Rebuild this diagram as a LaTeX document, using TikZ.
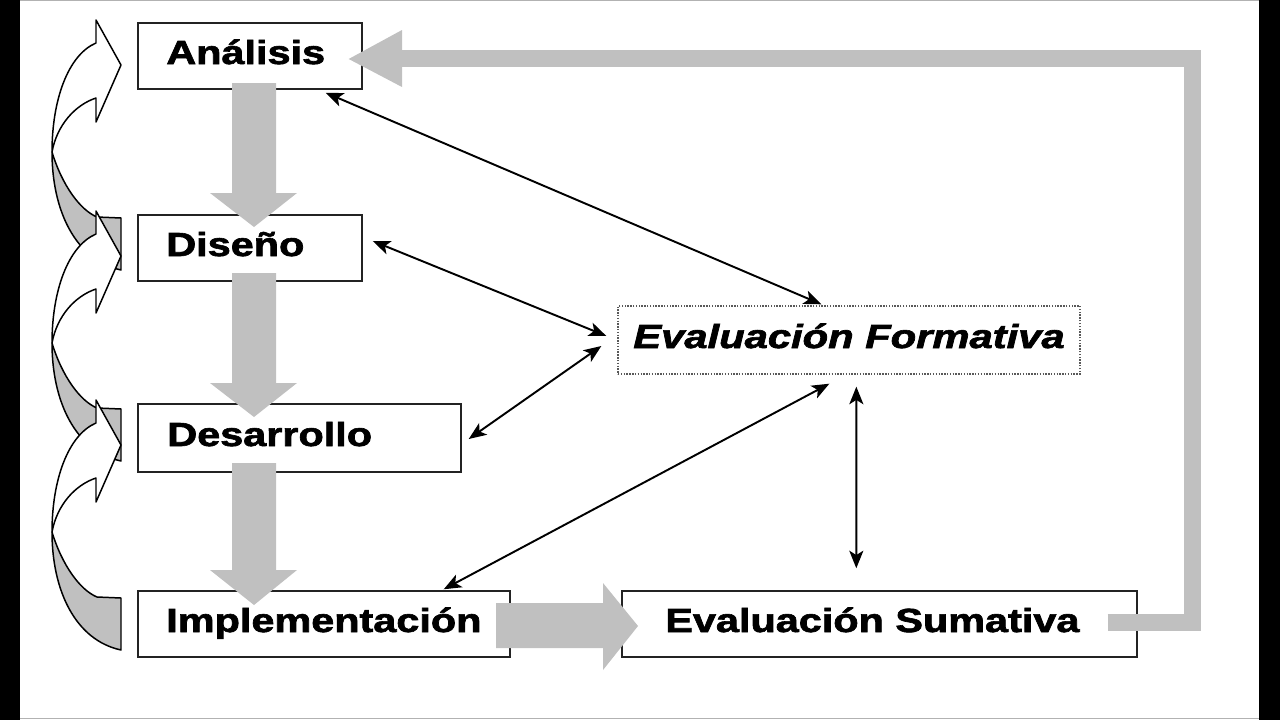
\documentclass[tikz,border=0pt]{standalone}
\usepackage{fontspec}
\usepackage{graphicx}
\setmainfont{Liberation Sans}[BoldFeatures={FakeBold=1.8},BoldItalicFeatures={FakeBold=1.8}]
\usetikzlibrary{arrows.meta,calc}
\definecolor{arrowgray}{RGB}{192,192,192}
\definecolor{boxline}{RGB}{35,35,35}
\newcommand{\lbl}[1]{\scalebox{1.24}[1]{\fontsize{19}{22}\selectfont\bfseries #1}}
\newcommand{\lbli}[1]{\scalebox{1.25}[1]{\fontsize{19}{22}\selectfont\bfseries\itshape #1}}
\newcommand{\myCurvedArrow}[1]{%
\begin{scope}[shift={(0,#1)}]
\filldraw[curvedgrey] (52,152) .. controls (62,185) and (80,210) .. (97,217) -- (121,218) -- (121,270) .. controls (75,260) and (52,210) .. cycle;
\filldraw[curvedwhite] (52,152) .. controls (52,100) and (68,55) .. (96,43) -- (96,20) -- (121,65) -- (96,122) -- (96,98) .. controls (75,105) and (57,125) .. cycle;
\end{scope}}
\begin{document}
\begin{tikzpicture}[x=0.02cm,y=-0.02cm,
  box/.style={draw=boxline, line width=0.85pt, fill=white, inner sep=0pt, rectangle},
  dotbox/.style={draw=gray!70!black, line width=0.8pt, dash pattern=on 0.8pt off 0.8pt, fill=white, inner sep=0pt, rectangle},
  txt/.style={inner sep=0pt, anchor=base west},
  biga/.style={fill=arrowgray, draw=none},
  twoway/.style={{Stealth[length=10pt,width=8pt,inset=2.5pt]}-{Stealth[length=10pt,width=8pt,inset=2.5pt]}, line width=1.1pt, black},
  curvedgrey/.style={fill=arrowgray, draw=black, line width=0.85pt, line join=round},
  curvedwhite/.style={fill=white, draw=black, line width=0.85pt, line join=round}]
\useasboundingbox (0,0) rectangle (1280,720);
% background
\fill[white] (0,0) rectangle (1280,720);
\fill[black] (0,0) rectangle (20,720);
\fill[black] (1259,0) rectangle (1280,720);
\draw[gray!60, line width=0.6pt] (20,0.6) -- (1259,0.6);
\draw[gray!60, line width=0.6pt] (20,718.5) -- (1259,718.5);

% curved arrows on the left
\myCurvedArrow{0}
\myCurvedArrow{191}
\myCurvedArrow{380}

% boxes
\node[box, minimum width=4.48cm, minimum height=1.32cm] (ana) at (250,56) {};
\node[box, minimum width=4.48cm, minimum height=1.32cm] (dis) at (250,248) {};
\node[box, minimum width=6.46cm, minimum height=1.36cm] (des) at (299.5,438) {};
\node[box, minimum width=7.44cm, minimum height=1.32cm] (imp) at (324,624) {};
\node[box, minimum width=10.3cm, minimum height=1.32cm] (sum) at (879.5,624) {};
\node[dotbox, minimum width=9.24cm, minimum height=1.36cm] (form) at (849,340) {};

% labels
\node[txt] (anat) at (166,64) {\lbl{Análisis}};
\node[txt] (dist) at (166,256) {\lbl{Diseño}};
\node[txt] (dest) at (167,446) {\lbl{Desarrollo}};
\node[txt] (impt) at (166,632) {\lbl{Implementación}};
\node[txt] (sumt) at (665,632) {\lbl{Evaluación Sumativa}};
\node[txt] (formt) at (633,348) {\lbli{Evaluación Formativa}};

% grey block arrows
\fill[biga] (232,83) -- (276,83) -- (276,193) -- (297,193) -- (254,227) -- (210,193) -- (232,193) -- cycle;
\fill[biga] (232,273) -- (276,273) -- (276,383) -- (297,383) -- (254,417) -- (210,383) -- (232,383) -- cycle;
\fill[biga] (232,463) -- (276,463) -- (276,570) -- (297,570) -- (254,605) -- (210,570) -- (232,570) -- cycle;
\fill[biga] (496,603) -- (603,603) -- (603,583) -- (638,626) -- (603,670) -- (603,648) -- (496,648) -- cycle;

% feedback line from Evaluacion Sumativa to Analisis
\coordinate (sumR) at ($(sum.east)+(-30,-2)$);
\coordinate (anaHead) at ($(ana.east)+(-14,3)$);
\draw[arrowgray, line width=0.34cm, line join=miter] (sumR) -- (1192,622) -- (1192,58.5) -- (401,58.5);
\fill[biga] (402,30) -- (anaHead) -- (402,87) -- cycle;

% black two-way connectors
\coordinate (a1) at ($(ana.south east)+(-37,3)$);
\coordinate (f1) at ($(form.north west)+(204,-1)$);
\coordinate (a2) at ($(dis.east)+(10,-7)$);
\coordinate (f2) at ($(form.west)+(-11,-4)$);
\coordinate (a3) at ($(des.east)+(7,1)$);
\coordinate (f3) at ($(form.west)+(-16,6)$);
\coordinate (a4) at ($(imp.north east)+(-67,-1)$);
\coordinate (f4) at ($(form.south west)+(212,9)$);
\coordinate (f5) at ($(form.south west)+(239,12)$);
\coordinate (s5) at ($(sum.north west)+(235,-22)$);
\draw[twoway] (a1) -- (f1);
\draw[twoway] (a2) -- (f2);
\draw[twoway] (a3) -- (f3);
\draw[twoway] (a4) -- (f4);
\draw[twoway] (f5) -- (s5);
\end{tikzpicture}
\end{document}
